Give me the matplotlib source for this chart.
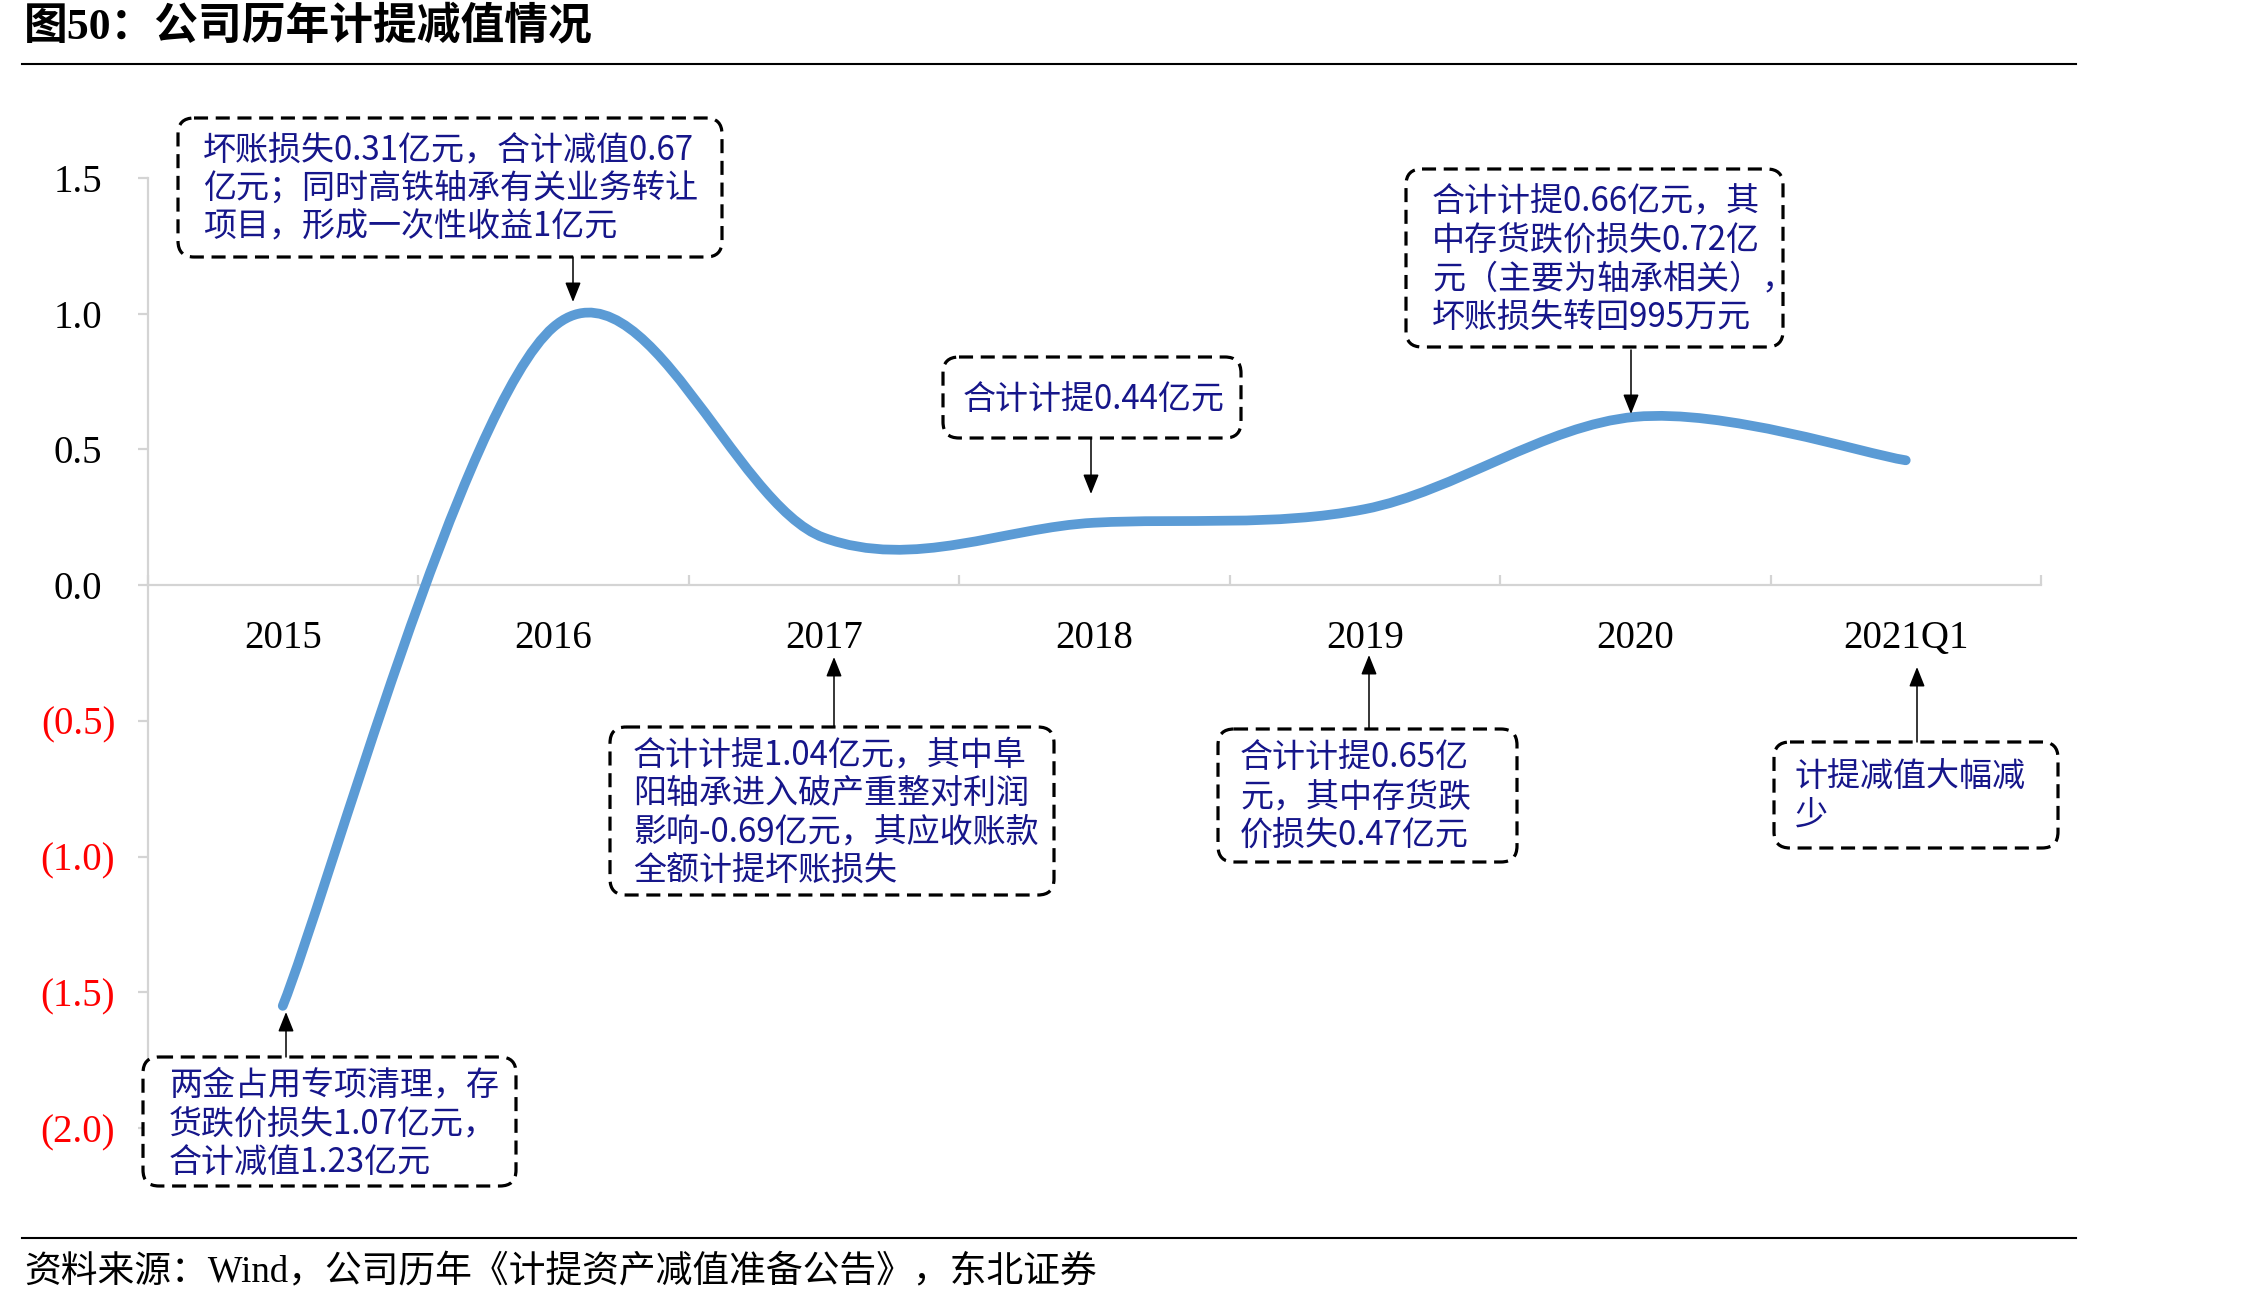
import numpy as np
import matplotlib
matplotlib.use("Agg")
import matplotlib.pyplot as plt
import matplotlib.transforms as mtransforms
from matplotlib.path import Path
from matplotlib.patches import PathPatch, FancyBboxPatch, FancyArrowPatch
from matplotlib.lines import Line2D

# ---- data ----
categories = ["2015", "2016", "2017", "2018", "2019", "2020", "2021Q1"]
impairment = [-1.55, 0.95, 0.175, 0.23, 0.28, 0.62, 0.46]   # 亿元

yticks = [1.5, 1.0, 0.5, 0.0, -0.5, -1.0, -1.5, -2.0]
ytick_labels = ["1.5", "1.0", "0.5", "0.0", "(0.5)", "(1.0)", "(1.5)", "(2.0)"]

title = "图50：公司历年计提减值情况"
source = "资料来源：Wind，公司历年《计提资产减值准备公告》，东北证券"

notes = [
    ["坏账损失0.31亿元，合计减值0.67", "亿元；同时高铁轴承有关业务转让", "项目，形成一次性收益1亿元"],
    ["合计计提0.44亿元"],
    ["合计计提0.66亿元，其", "中存货跌价损失0.72亿", "元（主要为轴承相关），", "坏账损失转回995万元"],
    ["合计计提1.04亿元，其中阜", "阳轴承进入破产重整对利润", "影响-0.69亿元，其应收账款", "全额计提坏账损失"],
    ["合计计提0.65亿", "元，其中存货跌", "价损失0.47亿元"],
    ["计提减值大幅减", "少"],
    ["两金占用专项清理，存", "货跌价损失1.07亿元，", "合计减值1.23亿元"],
]

# layout of the callouts in pixels (x0, y0, x1, y1), text x, first line y, arrow (x, y_from, y_to)
note_boxes = [(178, 118, 722, 257), (943, 357, 1241, 438), (1406, 169, 1783, 347),
              (610, 727, 1054, 895), (1218, 729, 1517, 862), (1774, 742, 2058, 848),
              (143, 1057, 516, 1186)]
note_text_xy = [(203, 150), (963, 400), (1432, 202), (633, 755), (1240, 758), (1795, 777), (169, 1085)]
note_arrows = [(573, 257, 302), (1091, 439, 494), (1631, 350, 414), (834, 727, 657),
               (1369, 729, 655), (1917, 742, 667), (286, 1057, 1012)]
line_step = 38.5

W, H = 2268, 1304
CJK = "Noto Sans CJK SC"
SERIF = "Liberation Serif"
blue = "#5B9BD5"
navy = "#16168A"
gray = "#D4D4D4"

plt.rcParams["font.family"] = [SERIF, CJK]

fig = plt.figure(figsize=(W / 100, H / 100), dpi=100)
px = mtransforms.Affine2D().scale(1 / W, -1 / H).translate(0, 1) + fig.transFigure

ax = fig.add_axes([147.5 / W, 1 - 1128 / H, (2041 - 147.5) / W, (1128 - 178) / H])
ax.set_xlim(-0.5, 6.5)
ax.set_ylim(-2.0, 1.5)


def smooth_path(xs, ys):
    pts = list(zip(xs, ys))
    n = len(pts)
    verts = [pts[0]]
    codes = [Path.MOVETO]
    for i in range(n - 1):
        p0 = pts[i - 1] if i > 0 else pts[i]
        p1 = pts[i]
        p2 = pts[i + 1]
        p3 = pts[i + 2] if i + 2 < n else pts[i + 1]
        c1 = (p1[0] + (p2[0] - p0[0]) / 6, p1[1] + (p2[1] - p0[1]) / 6)
        c2 = (p2[0] - (p3[0] - p1[0]) / 6, p2[1] - (p3[1] - p1[1]) / 6)
        verts += [c1, c2, p2]
        codes += [Path.CURVE4] * 3
    return Path(verts, codes)


x = np.arange(len(categories))
curve = PathPatch(smooth_path(x, impairment), fill=False, edgecolor=blue, lw=7,
                  capstyle="round", joinstyle="round", zorder=3)
ax.add_patch(curve)

for s in ["top", "right"]:
    ax.spines[s].set_visible(False)
ax.spines["bottom"].set_position(("data", 0))
ax.spines["bottom"].set_color(gray)
ax.spines["left"].set_color(gray)
ax.spines["bottom"].set_linewidth(1.6)
ax.spines["left"].set_linewidth(1.6)

ax.set_xticks(x)
ax.set_xticklabels(categories, fontsize=28, family=SERIF)
ax.set_xticks(np.arange(-0.5, 7, 1), minor=True)
ax.tick_params(axis="x", which="major", length=0, pad=25)
ax.tick_params(axis="x", which="minor", direction="in", length=7, width=1.6, color=gray)

ax.set_yticks(yticks)
ax.set_yticklabels(ytick_labels, fontsize=28, family=SERIF)
ax.tick_params(axis="y", direction="out", length=7, width=1.6, color=gray, pad=43)
for lbl, v in zip(ax.get_yticklabels(), yticks):
    lbl.set_ha("center")
    lbl.set_color("red" if v < 0 else "black")

# callouts
for lines, (x0, y0, x1, y1), (tx, ty), (axx, ya, yb) in zip(notes, note_boxes, note_text_xy, note_arrows):
    box = FancyBboxPatch((x0, y0), x1 - x0, y1 - y0, boxstyle="round,pad=0,rounding_size=16",
                         transform=px, facecolor="white", edgecolor="black", lw=2.3,
                         linestyle=(0, (4.4, 2.4)), zorder=5)
    fig.add_artist(box)
    for k, ln in enumerate(lines):
        fig.text(tx, ty + k * line_step, ln, transform=px, fontsize=23.8, color=navy,
                 family=[CJK], va="center", ha="left", zorder=6)
    arr = FancyArrowPatch((axx, ya), (axx, yb), transform=px,
                          arrowstyle="-|>,head_length=0.6,head_width=0.24", mutation_scale=20,
                          color="black", lw=1.1, shrinkA=0, shrinkB=0, zorder=6)
    fig.add_artist(arr)

# header / footer
fig.text(24, 27, title, transform=px, fontsize=31.5, fontweight="bold", va="center", ha="left")
fig.add_artist(Line2D([22, 2076], [64, 64], transform=px, color="black", lw=1.5))
fig.add_artist(Line2D([22, 2076], [1238, 1238], transform=px, color="black", lw=1.5))
fig.text(24, 1273, source, transform=px, fontsize=26.5, va="center", ha="left")

fig.savefig("out.png", dpi=100)
